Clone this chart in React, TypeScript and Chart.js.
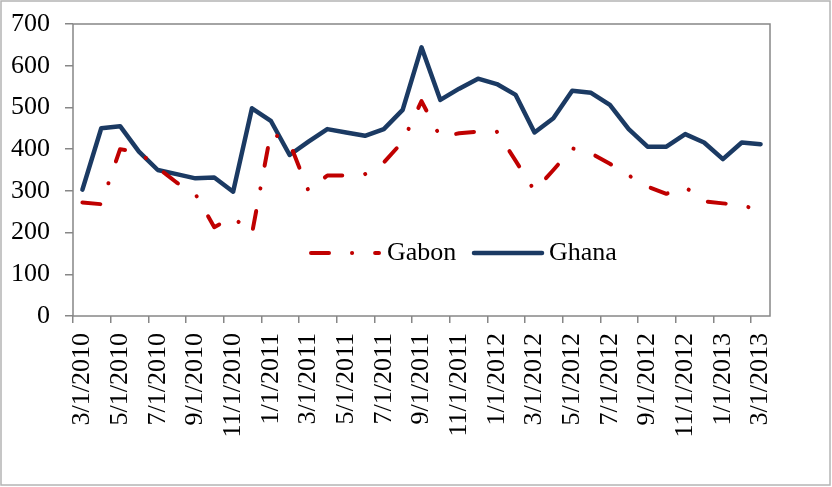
import React, { useEffect, useRef } from "react";
import { Chart, registerables } from "chart.js";

Chart.register(...registerables);

const categories = [
  "3/1/2010", "4/1/2010", "5/1/2010", "6/1/2010", "7/1/2010", "8/1/2010", "9/1/2010", "10/1/2010", "11/1/2010", "12/1/2010",
  "1/1/2011", "2/1/2011", "3/1/2011", "4/1/2011", "5/1/2011", "6/1/2011", "7/1/2011", "8/1/2011", "9/1/2011", "10/1/2011", "11/1/2011", "12/1/2011",
  "1/1/2012", "2/1/2012", "3/1/2012", "4/1/2012", "5/1/2012", "6/1/2012", "7/1/2012", "8/1/2012", "9/1/2012", "10/1/2012", "11/1/2012", "12/1/2012",
  "1/1/2013", "2/1/2013", "3/1/2013",
];

const gabon = [
  272, 268, 400, 393, 355, 320, 292, 213, 237, 197,
  440, 415, 300, 337, 337, 340, 368, 418, 515, 429, 438, 442,
  442, 372, 300, 350, 402, 390, 365, 337, 310, 293, 309, 275,
  270, 266, 252,
];

const ghana = [
  303, 450, 455, 394, 350, 340, 330, 332, 298, 498,
  468, 386, 418, 448, 440, 432, 448, 494, 644, 518, 545, 569,
  556, 530, 440, 474, 540, 535, 506, 448, 406, 406, 436, 416,
  376, 416, 412,
];

const seriesNames = ["Gabon", "Ghana"];
const yMin = 0;
const yMax = 700;
const yStep = 100;

const FONT = "'Liberation Serif', 'Times New Roman', serif";
const RED = "#C00000";
const NAVY = "#1B3A63";
const GRAY = "#878787";
const GABON_DASH = [18, 23, 0.1, 23];

const framePlugin = {
  id: "frame",
  beforeDraw(chart: any) {
    const { ctx, width, height } = chart;
    ctx.save();
    ctx.fillStyle = "#ffffff";
    ctx.fillRect(0, 0, width, height);
    ctx.restore();
  },
  beforeDatasetsDraw(chart: any) {
    const { ctx, chartArea: a } = chart;
    ctx.save();
    ctx.strokeStyle = GRAY;
    ctx.lineWidth = 1.5;
    ctx.strokeRect(a.left, a.top, a.right - a.left, a.bottom - a.top);
    ctx.restore();
  },
  afterDraw(chart: any) {
    const { ctx, chartArea: a, width, height } = chart;
    ctx.save();
    // outer frame
    ctx.strokeStyle = "#B4B4B4";
    ctx.lineWidth = 1.5;
    ctx.strokeRect(1, 1, width - 3, height - 3);

    // legend
    const ly = a.top + 229;
    const gx = a.left + 238;
    ctx.lineCap = "round";
    ctx.strokeStyle = RED;
    ctx.lineWidth = 4;
    ctx.setLineDash(GABON_DASH);
    ctx.beginPath();
    ctx.moveTo(gx, ly);
    ctx.lineTo(gx + 68, ly);
    ctx.stroke();
    ctx.setLineDash([]);
    ctx.fillStyle = "#000";
    ctx.font = `26px ${FONT}`;
    ctx.textBaseline = "middle";
    ctx.textAlign = "left";
    ctx.fillText(seriesNames[0], gx + 76, ly);

    const hx = a.left + 401;
    ctx.strokeStyle = NAVY;
    ctx.lineWidth = 4.5;
    ctx.beginPath();
    ctx.moveTo(hx, ly);
    ctx.lineTo(hx + 68, ly);
    ctx.stroke();
    ctx.fillText(seriesNames[1], hx + 75, ly);
    ctx.restore();
  },
};

export default function App() {
  const ref = useRef<HTMLCanvasElement | null>(null);

  useEffect(() => {
    if (!ref.current) return;
    const chart = new Chart(ref.current, {
      type: "line",
      data: {
        labels: categories,
        datasets: [
          {
            label: seriesNames[0],
            data: gabon,
            borderColor: RED,
            borderWidth: 4,
            borderDash: GABON_DASH,
            borderCapStyle: "round",
            borderJoinStyle: "round",
            pointRadius: 0,
            tension: 0,
            fill: false,
          },
          {
            label: seriesNames[1],
            data: ghana,
            borderColor: NAVY,
            borderWidth: 4.5,
            borderCapStyle: "round",
            borderJoinStyle: "round",
            pointRadius: 0,
            tension: 0,
            fill: false,
          },
        ],
      },
      options: {
        animation: false,
        responsive: false,
        maintainAspectRatio: false,
        events: [],
        layout: { padding: { top: 24, right: 62, left: 0, bottom: 0 } },
        plugins: {
          legend: { display: false },
          tooltip: { enabled: false },
        },
        scales: {
          x: {
            type: "category",
            offset: true,
            border: { display: false },
            grid: {
              offset: true,
              drawOnChartArea: false,
              drawTicks: true,
              tickLength: 7,
              lineWidth: 1.5,
              color: (c: any) =>
                c.index !== undefined && c.index % 2 === 0 ? GRAY : "rgba(0,0,0,0)",
            },
            ticks: {
              autoSkip: false,
              minRotation: 90,
              maxRotation: 90,
              padding: 10,
              color: "#000",
              font: { family: FONT, size: 26 },
              callback: (_v: any, i: number) => (i % 2 === 0 ? categories[i] : ""),
            },
            afterFit: (s: any) => {
              s.height = 171;
              s.paddingLeft = 0;
              s.paddingRight = 0;
            },
          },
          y: {
            min: yMin,
            max: yMax,
            border: { display: false },
            grid: {
              drawOnChartArea: false,
              drawTicks: true,
              tickLength: 8,
              lineWidth: 1.5,
              color: GRAY,
            },
            ticks: {
              stepSize: yStep,
              padding: 15,
              color: "#000",
              font: { family: FONT, size: 26 },
            },
            afterFit: (s: any) => {
              s.width = 73;
              s.paddingTop = 0;
              s.paddingBottom = 0;
            },
          },
        },
      },
      plugins: [framePlugin],
    });
    return () => chart.destroy();
  }, []);

  return (
    <div style={{ position: "fixed", left: 0, top: 0, width: 832, height: 487 }}>
      <canvas ref={ref} width={832} height={487} style={{ width: 832, height: 487, display: "block" }} />
    </div>
  );
}
